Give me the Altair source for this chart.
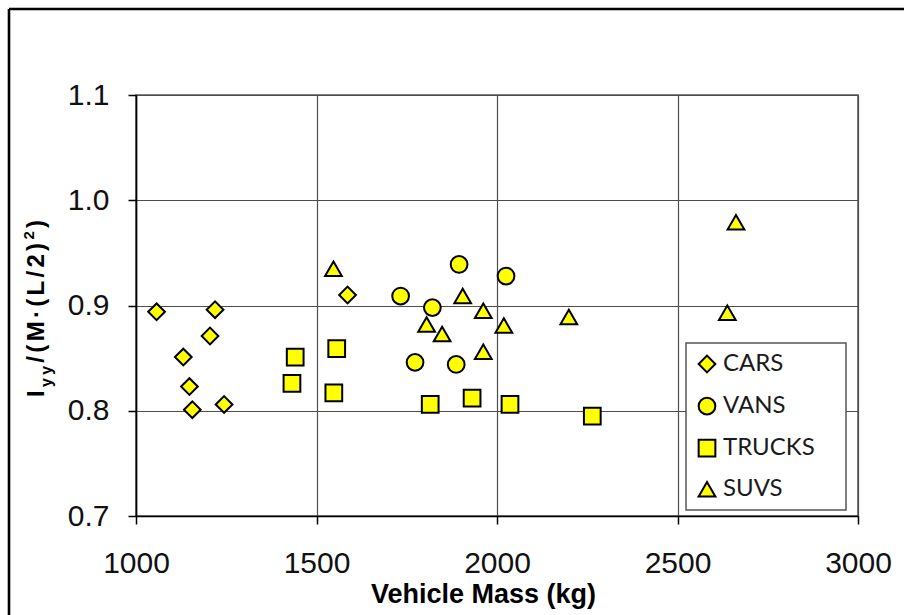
import altair as alt
import pandas as pd

# ---- data -----------------------------------------------------------------
types = ["CARS", "VANS", "TRUCKS", "SUVS"]

cars_mass = [1057, 1219, 1205, 1131, 1148, 1156, 1244, 1586]
cars_ratio = [0.894, 0.896, 0.871, 0.851, 0.823, 0.801, 0.806, 0.910]

vans_mass = [1895, 2025, 1733, 1821, 1773, 1887]
vans_ratio = [0.939, 0.928, 0.909, 0.898, 0.846, 0.844]

trucks_mass = [1441, 1432, 1556, 1548, 1815, 1931, 2036, 2264]
trucks_ratio = [0.851, 0.826, 0.859, 0.817, 0.806, 0.812, 0.806, 0.795]

suvs_mass = [1547, 1905, 1962, 1805, 1848, 2019, 1962, 2199, 2662, 2638]
suvs_ratio = [0.935, 0.909, 0.895, 0.882, 0.873, 0.881, 0.856, 0.889, 0.979, 0.893]

x_ticks = [1000, 1500, 2000, 2500, 3000]
y_ticks = [0.7, 0.8, 0.9, 1.0, 1.1]

rows = []
for t, ms, rs in zip(types,
                     [cars_mass, vans_mass, trucks_mass, suvs_mass],
                     [cars_ratio, vans_ratio, trucks_ratio, suvs_ratio]):
    for m, r in zip(ms, rs):
        rows.append({"type": t, "mass": m, "ratio": r})
df = pd.DataFrame(rows)
one = pd.DataFrame({"k": [0]})

# ---- layout ---------------------------------------------------------------
LEFT, TOP, W, H = 136, 95, 722, 421
FONT = "Liberation Sans"
YELLOW = "#FFFF00"


def type_legend():
    return alt.Legend(orient="none", legendX=559, legendY=257,
                      title=None, labelFont="Lato", labelFontSize=24,
                      labelColor="#1a1a1a", symbolSize=280,
                      symbolStrokeWidth=2, symbolOpacity=1,
                      rowPadding=16.1, padding=0, labelOffset=4)


points = alt.Chart(df).mark_point(filled=True, opacity=1, size=280, strokeWidth=2).encode(
    x=alt.X("mass:Q",
            scale=alt.Scale(domain=[1000, 3000], nice=False, zero=False),
            axis=alt.Axis(values=x_ticks, format="d", title="Vehicle Mass  (kg)",
                          titleFont=FONT, titleFontSize=27, titleFontWeight="bold",
                          titleColor="black", titleX=347, titleY=86,
                          titleAlign="center", titleBaseline="alphabetic",
                          labelFont=FONT, labelFontSize=30, labelColor="#111",
                          labelPadding=24, labelOverlap=False, labelFlush=False,
                          tickSize=8, tickColor="black", tickWidth=1.5,
                          domainColor="black", domainWidth=1.6,
                          grid=True, gridColor="#4d4d4d", gridWidth=1.2)),
    y=alt.Y("ratio:Q",
            scale=alt.Scale(domain=[0.7, 1.1], nice=False, zero=False),
            axis=alt.Axis(values=y_ticks, format=".1f", title=None,
                          labelFont=FONT, labelFontSize=30, labelColor="#111",
                          labelPadding=19, labelOverlap=False, labelFlush=False,
                          tickSize=8, tickColor="black", tickWidth=1.5,
                          domainColor="black", domainWidth=1.6,
                          grid=True, gridColor="#4d4d4d", gridWidth=1.2)),
    shape=alt.Shape("type:N", sort=types,
                    scale=alt.Scale(domain=types,
                                    range=["diamond", "circle", "square", "triangle-up"]),
                    legend=type_legend()),
    fill=alt.Fill("type:N", sort=types,
                  scale=alt.Scale(domain=types, range=[YELLOW] * 4),
                  legend=type_legend()),
    stroke=alt.Stroke("type:N", sort=types,
                      scale=alt.Scale(domain=types, range=["black"] * 4),
                      legend=type_legend()),
)

# legend frame
legend_box = alt.Chart(one).mark_rect(fill="white", stroke="#555", strokeWidth=1.5).encode(
    x=alt.value(550), x2=alt.value(710), y=alt.value(248), y2=alt.value(415)
)

# outer figure frame (left and top edges)
frame_left = alt.Chart(one).mark_rule(color="black", strokeWidth=2.6).encode(
    x=alt.value(9 - LEFT), y=alt.value(9 - TOP), y2=alt.value(640 - TOP)
)
frame_top = alt.Chart(one).mark_rule(color="black", strokeWidth=2.6).encode(
    y=alt.value(9 - TOP), x=alt.value(9 - LEFT), x2=alt.value(930 - LEFT)
)

# rotated y title I_yy/(M·(L/2)^2), typeset glyph by glyph so the subscript,
# superscript and the loose letter spacing can be reproduced
adv = {"I": .278, "y": .556, "/": .278, "(": .333, "M": .833, "·": .333,
       "L": .611, "2": .556, ")": .333}
track = 3.3
base_x = 44.3 - LEFT
glyphs = ([("I", 24, 0.0)] + [("y", 16, 7.3)] * 2 +
          [(c, 24, 0.0) for c in "/(M·(L/2)"] + [("2", 15, -10.3), (")", 24, 0.0)])
pos = 397 - TOP
ytitle = []
for ch, size, shift in glyphs:
    ytitle.append(
        alt.Chart(one).mark_text(
            text=ch, font=FONT, fontSize=size, fontWeight="bold", color="black",
            angle=270, align="left", baseline="alphabetic"
        ).encode(x=alt.value(base_x + shift), y=alt.value(pos))
    )
    pos -= adv[ch] * size + track

chart = alt.layer(points, legend_box, frame_left, frame_top, *ytitle).properties(
    width=W, height=H,
    autosize=alt.AutoSizeParams(type="none"),
    padding={"left": LEFT, "top": TOP, "right": 904 - LEFT - W, "bottom": 615 - TOP - H},
).configure(background="white").configure_view(stroke="#555", strokeWidth=1.5)

chart.save("out.html", embed_options={"renderer": "svg", "actions": False})
